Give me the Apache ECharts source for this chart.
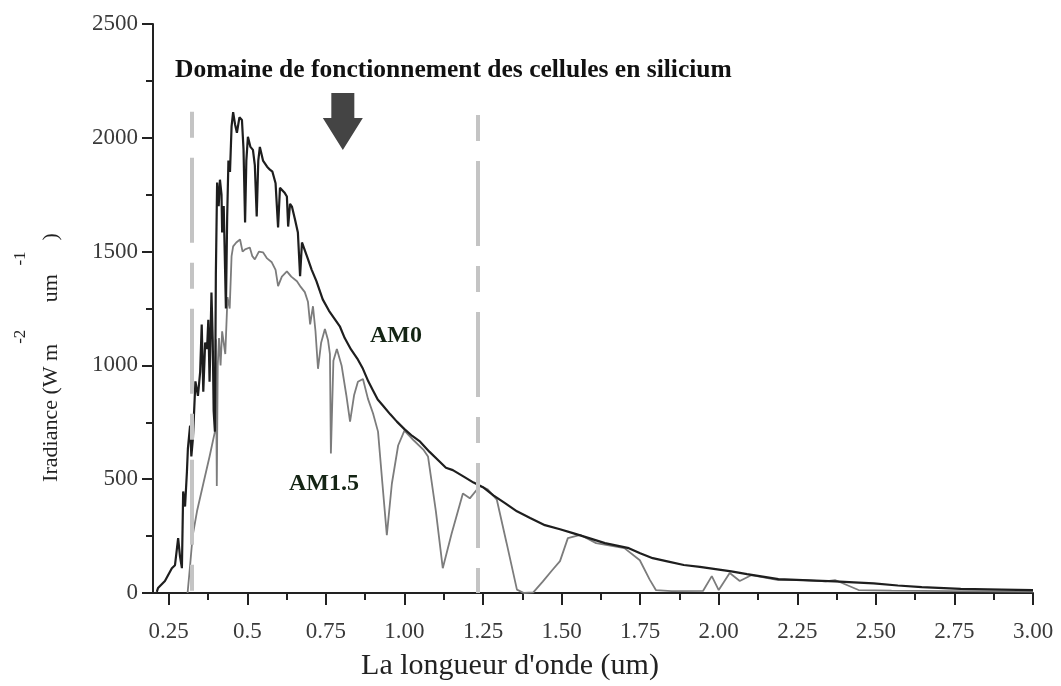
<!DOCTYPE html>
<html>
<head>
<meta charset="utf-8">
<script src="https://cdn.jsdelivr.net/npm/echarts@6/dist/echarts.min.js"></script>
<style>
  html, body { margin: 0; padding: 0; background: #fff; }
  #chart { width: 1061px; height: 686px; }
</style>
</head>
<body>
<div id="chart"></div>
<script>
const SERIF = '"Liberation Serif", "DejaVu Serif", serif';

// x tick positions and the labels printed under them
const xTickValues = [0.25, 0.5, 0.75, 1.0, 1.25, 1.5, 1.75, 2.0, 2.25, 2.5, 2.75, 3.0];
const xTickLabels = ['0.25', '0.5', '0.75', '1.00', '1.25', '1.50', '1.75', '2.00', '2.25', '2.50', '2.75', '3.00'];
const xMinorTicks = [0.375, 0.625, 0.875, 1.125, 1.375, 1.625, 1.875, 2.125, 2.375, 2.625, 2.875];

// [wavelength um, irradiance W m-2 um-1]
const am0 = [
  [0.212, 5], [0.216, 22], [0.238, 53], [0.26, 109], [0.27, 122], [0.28, 241], [0.286, 160],
  [0.292, 109], [0.296, 446], [0.302, 380], [0.308, 534], [0.311, 634], [0.318, 735], [0.322, 600],
  [0.327, 678], [0.335, 930], [0.343, 866], [0.35, 971], [0.355, 1180], [0.36, 884], [0.366, 1100],
  [0.372, 1072], [0.376, 1200], [0.38, 928], [0.386, 1320], [0.39, 1116], [0.393, 800], [0.397, 709],
  [0.40, 1400], [0.404, 1803], [0.409, 1700], [0.413, 1816], [0.418, 1750], [0.42, 1584], [0.425, 1700],
  [0.432, 1250], [0.436, 1650], [0.44, 1900], [0.445, 1850], [0.45, 2050], [0.455, 2113], [0.461, 2060],
  [0.467, 2022], [0.475, 2090], [0.483, 2078], [0.488, 1950], [0.493, 1628], [0.497, 1900], [0.502, 2004],
  [0.51, 1960], [0.518, 1947], [0.524, 1880], [0.53, 1654], [0.535, 1900], [0.54, 1960], [0.55, 1900],
  [0.563, 1873], [0.572, 1860], [0.58, 1851], [0.59, 1800], [0.598, 1606], [0.604, 1780], [0.61, 1785],
  [0.618, 1760], [0.626, 1742], [0.63, 1610], [0.636, 1710], [0.642, 1698], [0.652, 1640], [0.661, 1584],
  [0.668, 1392], [0.674, 1540], [0.69, 1479], [0.705, 1420], [0.72, 1370], [0.74, 1290], [0.76, 1240],
  [0.78, 1200], [0.795, 1170], [0.81, 1120], [0.83, 1070], [0.85, 1030], [0.868, 985], [0.885, 930],
  [0.9, 890], [0.915, 850], [0.932, 823], [0.955, 785], [0.976, 753], [1.0, 720], [1.025, 690],
  [1.05, 665], [1.08, 620], [1.11, 580], [1.132, 550], [1.154, 540], [1.19, 510], [1.22, 485],
  [1.25, 465], [1.283, 429], [1.32, 395], [1.358, 359], [1.4, 330], [1.447, 298], [1.495, 280],
  [1.536, 263], [1.59, 240], [1.638, 219], [1.714, 197], [1.75, 175], [1.79, 153], [1.84, 138],
  [1.889, 123], [1.94, 115], [1.99, 105], [2.04, 95], [2.09, 83], [2.14, 72], [2.19, 61], [2.267, 57],
  [2.37, 51], [2.43, 47], [2.493, 42], [2.57, 33], [2.646, 26], [2.77, 18], [2.9, 15], [3.0, 13]
];

const am15 = [
  [0.31, 0], [0.318, 120], [0.326, 250], [0.34, 359], [0.36, 480], [0.38, 600], [0.397, 709],
  [0.40, 1115], [0.403, 470], [0.406, 1000], [0.41, 1120], [0.415, 1000], [0.42, 1150], [0.43, 1050],
  [0.437, 1300], [0.444, 1250], [0.45, 1480], [0.455, 1523], [0.465, 1540], [0.477, 1553], [0.485, 1500],
  [0.493, 1510], [0.508, 1518], [0.516, 1480], [0.524, 1466], [0.537, 1500], [0.55, 1497], [0.563, 1470],
  [0.578, 1453], [0.59, 1420], [0.598, 1348], [0.61, 1390], [0.626, 1413], [0.64, 1390], [0.658, 1370],
  [0.67, 1345], [0.683, 1322], [0.693, 1280], [0.70, 1180], [0.709, 1260], [0.717, 1150], [0.725, 985],
  [0.735, 1100], [0.747, 1160], [0.757, 1110], [0.763, 1050], [0.766, 613], [0.77, 613], [0.774, 1020],
  [0.785, 1072], [0.80, 1000], [0.815, 870], [0.827, 753], [0.84, 870], [0.852, 928], [0.868, 940],
  [0.884, 853], [0.9, 790], [0.916, 709], [0.93, 480], [0.944, 254], [0.96, 480], [0.98, 648],
  [1.0, 713], [1.03, 670], [1.06, 630], [1.075, 600], [1.1, 360], [1.122, 109], [1.15, 260],
  [1.186, 437], [1.208, 416], [1.24, 470], [1.265, 455], [1.294, 410], [1.325, 220], [1.358, 15],
  [1.38, 0], [1.41, 3], [1.44, 50], [1.47, 100], [1.495, 140], [1.52, 241], [1.56, 255], [1.61, 219],
  [1.70, 197], [1.749, 144], [1.78, 60], [1.80, 13], [1.85, 8], [1.95, 9], [1.978, 74], [2.0, 13],
  [2.035, 88], [2.067, 53], [2.105, 79], [2.19, 57], [2.27, 57], [2.34, 51], [2.37, 57], [2.445, 13],
  [2.55, 10], [2.75, 8], [3.0, 6]
];

// silicon working range limits (um) and how high the dashed markers go
const siliconRange = [0.324, 1.232];
const dashTop = [2114, 2100];

const arrowPos = [0.804, 2072];
const curveLabels = [[0.973, 1129, 'AM0'], [0.744, 481, 'AM1.5']];

const chart = echarts.init(document.getElementById('chart'), null, { renderer: 'canvas' });

const axisColor = '#222';
const labelColor = '#3a3a3a';

chart.setOption({
  backgroundColor: '#fff',
  animation: false,
  title: {
    text: 'Domaine de fonctionnement des cellules en silicium',
    left: 170,
    top: 52,
    textStyle: { fontFamily: SERIF, fontWeight: 'bold', fontSize: 25.5, color: '#111' }
  },
  grid: { left: 153, right: 28, top: 24, bottom: 91 },
  xAxis: [
    {
      type: 'value',
      min: 0.2,
      max: 3.0,
      name: "La longueur d'onde (um)",
      nameLocation: 'middle',
      nameGap: 58,
      nameTextStyle: { fontFamily: SERIF, fontSize: 30, color: '#222', padding: [0, 166, 0, 0] },
      axisLine: { onZero: false, lineStyle: { color: axisColor, width: 2 } },
      axisTick: { customValues: xTickValues, length: 12, lineStyle: { color: axisColor, width: 2 } },
      axisLabel: {
        customValues: xTickValues,
        margin: 27,
        fontFamily: SERIF,
        fontSize: 23,
        color: labelColor,
        formatter: (v) => {
          const i = xTickValues.findIndex((t) => Math.abs(t - v) < 1e-9);
          return i < 0 ? '' : xTickLabels[i];
        }
      },
      splitLine: { show: false }
    },
    {
      type: 'value',
      min: 0.2,
      max: 3.0,
      position: 'bottom',
      axisLine: { show: false, onZero: false },
      axisTick: { customValues: xMinorTicks, length: 7, lineStyle: { color: axisColor, width: 2 } },
      axisLabel: { show: false },
      splitLine: { show: false }
    }
  ],
  yAxis: {
    type: 'value',
    min: 0,
    max: 2500,
    interval: 500,
    name: '{m|Iradiance (W m}{s|-2}{g|     }{m|um}{s|  -1}{m|  )}',
    nameLocation: 'middle',
    nameGap: 91,
    nameRotate: 90,
    nameTextStyle: {
      padding: [0, 98, 0, 0],
      rich: {
        m: { fontFamily: SERIF, fontSize: 22, color: '#222', lineHeight: 24, verticalAlign: 'bottom' },
        s: { fontFamily: SERIF, fontSize: 17, color: '#222', lineHeight: 18, verticalAlign: 'top' },
        g: { fontFamily: SERIF, fontSize: 22, lineHeight: 50 }
      }
    },
    axisLine: { show: true, lineStyle: { color: axisColor, width: 2 } },
    axisTick: { show: true, length: 11, lineStyle: { color: axisColor, width: 2 } },
    minorTick: { show: true, splitNumber: 2, length: 7, lineStyle: { color: axisColor, width: 2 } },
    axisLabel: {
      margin: 15, fontFamily: SERIF, fontSize: 23, color: labelColor,
      formatter: (v) => String(v)
    },
    splitLine: { show: false },
    minorSplitLine: { show: false }
  },
  series: [
    {
      name: 'AM1.5',
      type: 'line',
      data: am15,
      showSymbol: false,
      silent: true,
      lineStyle: { color: '#7c7c7c', width: 1.8 },
      markLine: {
        silent: true,
        symbol: ['none', 'none'],
        label: { show: false },
        lineStyle: { color: '#c4c4c4', width: 4, type: [26, 20, 85, 20] },
        data: siliconRange.map((x, i) => [{ coord: [x, dashTop[i]] }, { coord: [x, 0] }])
      }
    },
    {
      name: 'AM0',
      type: 'line',
      data: am0,
      showSymbol: false,
      silent: true,
      lineStyle: { color: '#1e1e1e', width: 2.2 },
      markPoint: {
        silent: true,
        data: [{
          coord: arrowPos,
          symbol: 'path://M8.5,0L31.5,0L31.5,25L40,25L20,57L0,25L8.5,25Z',
          symbolSize: [40, 57],
          itemStyle: { color: '#444' },
          label: { show: false }
        }]
      }
    },
    {
      type: 'scatter',
      data: curveLabels,
      symbolSize: 0,
      silent: true,
      itemStyle: { opacity: 1 },
      label: {
        show: true,
        position: 'inside',
        formatter: (p) => p.data[2],
        fontFamily: SERIF,
        fontWeight: 'bold',
        fontSize: 24,
        color: '#142414'
      }
    }
  ]
});
</script>
</body>
</html>
